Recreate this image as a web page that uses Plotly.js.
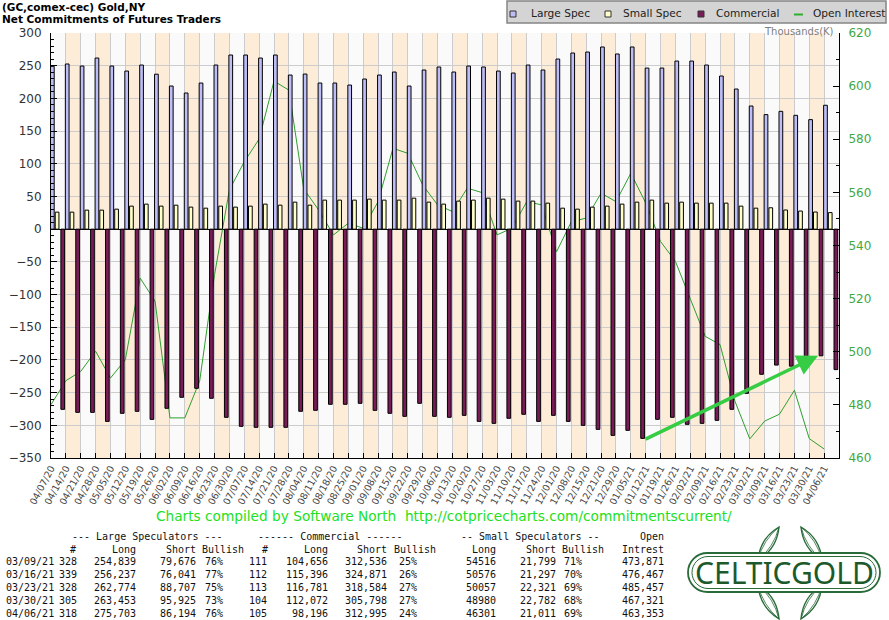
<!DOCTYPE html>
<html><head><meta charset="utf-8">
<script src="https://cdn.plot.ly/plotly-3.0.1.min.js"></script>
<style>html,body{margin:0;padding:0;background:#fff}#chart{width:889px;height:620px}</style>
</head><body><div id="chart"></div>
<script>
// ---------- chart data ----------
const dates = ['04/07/20','04/14/20','04/21/20','04/28/20','05/05/20','05/12/20','05/19/20','05/26/20','06/02/20','06/09/20','06/16/20','06/23/20','06/30/20','07/07/20','07/14/20','07/21/20','07/28/20','08/04/20','08/11/20','08/18/20','08/25/20','09/01/20','09/08/20','09/15/20','09/22/20','09/29/20','10/06/20','10/13/20','10/20/20','10/27/20','11/03/20','11/10/20','11/17/20','11/24/20','12/01/20','12/08/20','12/15/20','12/21/20','12/29/20','01/05/21','01/12/21','01/19/21','01/26/21','02/02/21','02/09/21','02/16/21','02/23/21','03/02/21','03/09/21','03/16/21','03/23/21','03/30/21','04/06/21'];
const largeSpec = [249,252.6,249.5,261.7,249.5,241.8,251,237,218.9,208.2,223.5,251,266.3,266.3,261.7,266.3,235.7,237.2,223.5,223.5,220.4,229.6,235.7,240.3,218.9,243.4,248,240.3,249.5,248,241.8,238.8,251,243.4,260.2,269.4,270.9,278.6,267.9,278.6,246.4,246.4,257.1,257.1,251,234.2,214.3,188.3,175.2,180.2,174.1,167.5,189.5];
const smallSpec = [26,26,29.1,29.1,30.6,35.2,38.3,35.2,36.7,33.7,32.1,35.2,33.7,35.2,38.3,36.7,41.3,36.7,44.4,44.4,44.4,45.9,44.4,44.4,47.4,41.3,38.3,42.9,44.4,47.4,45.9,42.9,42.9,39.8,32.1,30.6,33.7,35.2,38.3,41.3,44.4,39.8,41.3,39.8,39.8,39.8,35.2,32.1,32.7,29.3,27.7,26.2,25.3];
const commercial = [-275.6,-280.2,-280.2,-294,-281.7,-278.6,-290.9,-274,-257.2,-243.4,-258.7,-287.8,-301.6,-303.1,-303.1,-303.1,-278.6,-277.1,-267.9,-267.9,-266.4,-277.1,-281.7,-286.3,-266.4,-286.3,-287.8,-284.8,-294,-297,-289.3,-283.2,-294,-284.8,-294,-300.1,-306.2,-315.4,-307.7,-320,-290.9,-287.8,-298.5,-297,-292.4,-275.6,-251.1,-222,-207.9,-209.5,-201.8,-193.7,-214.8];
const openInterest = [480.1,489.1,492.6,500.2,490.1,497,527.7,519,475.1,475.1,489,529,561,571.5,580.1,601.9,598.5,561.3,553.4,544,548.4,546.5,556.5,576.6,574.7,562.8,555.3,552.8,561.6,559.9,544,546.5,556.5,555.3,537.6,549,550.3,559.7,556.5,567.2,556,541.5,534,520.2,505.8,502.7,481.4,467.2,473.9,476.5,485.5,467.3,463.4];

// ---------- table data ----------
const tblDates = ['03/09/21','03/16/21','03/23/21','03/30/21','04/06/21'];
const lsCount = [328,339,328,305,318];
const lsLong = [254839,256237,262774,263453,275703];
const lsShort = [79676,76041,88707,95925,86194];
const lsBull = [76,77,75,73,76];
const cmCount = [111,112,113,104,105];
const cmLong = [104656,115396,116781,112072,98196];
const cmShort = [312536,324871,318584,305798,312995];
const cmBull = [25,26,27,27,24];
const ssLong = [54516,50576,50057,48980,46301];
const ssShort = [21799,21297,22321,22782,21011];
const ssBull = [71,70,69,68,69];
const oiTbl = [473871,476467,485457,467321,463353];

// ---------- geometry helpers (plot area in px) ----------
const L = 51, R = 839, T = 33, B = 458;
const X = x => (x - L) / (R - L);
const Y = y => (B - y) / (B - T);
const idx = dates.map((d, i) => i);
const fmt = n => n.toLocaleString('en-US');

const traces = [
  {type:'scatter', mode:'lines', x: idx, y: openInterest, yaxis:'y', line:{color:'#2f9f2f', width:1}, name:'Open Interest', hoverinfo:'skip'},
  {type:'bar', x: idx, y: largeSpec, yaxis:'y2', offset:-0.035, width:0.25, marker:{color:'#bdbdf7', line:{color:'#000', width:1}}, name:'Large Spec'},
  {type:'bar', x: idx, y: smallSpec, yaxis:'y2', offset:0.285, width:0.25, marker:{color:'#ffffc8', line:{color:'#000', width:1}}, name:'Small Spec'},
  {type:'bar', x: idx, y: commercial, yaxis:'y2', offset:0.665, width:0.25, marker:{color:'#7a1b58', line:{color:'#000', width:1}}, name:'Commercial'}
];

const shapes = [];
for (let i = 1; i < 53; i += 2) {
  shapes.push({type:'rect', layer:'below', xref:'x', yref:'paper', x0:i, x1:i+1, y0:0, y1:1, fillcolor:'#fdecd8', line:{width:0}});
}
// legend box
shapes.push({type:'rect', xref:'paper', yref:'paper', x0:X(507), x1:X(886), y0:Y(1), y1:Y(23), fillcolor:'#d4d4d4', line:{color:'#858585', width:1.5}});
const legItems = [
  {sx:510, tx:529, label:'Large Spec', color:'#bdbdf7', kind:'sq'},
  {sx:605, tx:621, label:'Small Spec', color:'#ffffc8', kind:'sq'},
  {sx:698, tx:714, label:'Commercial', color:'#7a1b58', kind:'sq'},
  {sx:794, tx:811, label:'Open Interest', color:'#2fae2f', kind:'line'}
];
const annotations = [];
legItems.forEach(it => {
  if (it.kind === 'sq') {
    shapes.push({type:'rect', xref:'paper', yref:'paper', x0:X(it.sx), x1:X(it.sx+6), y0:Y(11), y1:Y(17), fillcolor:it.color, line:{color:'#333', width:1}});
  } else {
    shapes.push({type:'line', xref:'paper', yref:'paper', x0:X(it.sx), x1:X(it.sx+9), y0:Y(14.5), y1:Y(14.5), line:{color:it.color, width:2}});
  }
  annotations.push({xref:'paper', yref:'paper', x:X(it.tx), y:Y(13), xanchor:'left', yanchor:'middle', showarrow:false, text:it.label, font:{family:'DejaVu Sans', size:10.6, color:'#222'}});
});

// title lines
annotations.push({xref:'paper', yref:'paper', x:X(0), y:Y(7), xanchor:'left', yanchor:'middle', showarrow:false, text:'<b>(GC,comex-cec) Gold,NY</b>', font:{family:'DejaVu Sans', size:10.5, color:'#000'}});
annotations.push({xref:'paper', yref:'paper', x:X(0), y:Y(19), xanchor:'left', yanchor:'middle', showarrow:false, text:'<b>Net Commitments of Futures Traders</b>', font:{family:'DejaVu Sans', size:10.5, color:'#000'}});

// Thousands(K)
annotations.push({xref:'paper', yref:'paper', x:X(836), y:Y(32), xanchor:'right', yanchor:'middle', showarrow:false, text:'Thousands(K)', font:{family:'DejaVu Sans', size:10, color:'#808080'}});

// arrow
annotations.push({xref:'x', yref:'y2', x:51.59, y:-193.8, ax:-174, ay:84, showarrow:true, text:'', arrowhead:2, arrowsize:1.2, arrowwidth:3.5, arrowcolor:'#36cc44', standoff:0});

// credits line
annotations.push({xref:'paper', yref:'paper', x:X(444), y:Y(516), xanchor:'center', yanchor:'middle', showarrow:false, text:'Charts compiled by Software North\u00A0\u00A0http://cotpricecharts.com/commitmentscurrent/', font:{family:'DejaVu Sans', size:13.7, color:'#22e022'}});

// table
const tf = {family:'DejaVu Sans Mono', size:10, color:'#111'};
function cell(text, x, y, anchor) {
  annotations.push({xref:'paper', yref:'paper', x:X(x), y:Y(y), xanchor:anchor || 'right', yanchor:'middle', showarrow:false, text:String(text), font:tf, borderpad:0});
}
cell('--- Large Speculators ---', 147, 536, 'center');
cell('------ Commercial ------', 330, 536, 'center');
cell('-- Small Speculators --', 530, 536, 'center');
cell('Open', 665, 536);
cell('#', 77, 549); cell('Long', 137, 549); cell('Short', 197, 549); cell('Bullish', 245, 549);
cell('#', 269, 549); cell('Long', 329, 549); cell('Short', 388, 549); cell('Bullish', 437, 549);
cell('Long', 497, 549); cell('Short', 557, 549); cell('Bullish', 605, 549); cell('Intrest', 665, 549);
const rowY = [561.7, 574.7, 587.7, 600.7, 613.5];
tblDates.forEach((d, r) => {
  const y = rowY[r];
  cell(d, 5, y, 'left');
  cell(lsCount[r], 78, y);
  cell(fmt(lsLong[r]), 137, y);
  cell(fmt(lsShort[r]), 197, y);
  cell(lsBull[r] + '%', 224, y);
  cell(cmCount[r], 268, y);
  cell(fmt(cmLong[r]), 329, y);
  cell(fmt(cmShort[r]), 388, y);
  cell(cmBull[r] + '%', 418, y);
  cell(String(ssLong[r]), 497, y);
  cell(fmt(ssShort[r]), 557, y);
  cell(ssBull[r] + '%', 583, y);
  cell(fmt(oiTbl[r]), 665, y);
});

// logo
const G = '#2a6b3a';
const k = 0.5523;
function pill(x0, y0, x1, y1) {
  const r = (y1 - y0) / 2, cy = (y0 + y1) / 2, lc = x0 + r, rc = x1 - r;
  const p = (x, y) => X(x) + ',' + Y(y);
  return 'M' + p(lc, y0) + ' L' + p(rc, y0) +
    ' C' + p(rc + k*r, y0) + ' ' + p(x1, cy - k*r) + ' ' + p(x1, cy) +
    ' C' + p(x1, cy + k*r) + ' ' + p(rc + k*r, y1) + ' ' + p(rc, y1) +
    ' L' + p(lc, y1) +
    ' C' + p(lc - k*r, y1) + ' ' + p(x0, cy + k*r) + ' ' + p(x0, cy) +
    ' C' + p(x0, cy - k*r) + ' ' + p(lc - k*r, y0) + ' ' + p(lc, y0) + ' Z';
}
function lens(ax, ay, bx, by, w) {
  const mx = (ax + bx) / 2, my = (ay + by) / 2, dx = bx - ax, dy = by - ay, len = Math.hypot(dx, dy);
  const nx = -dy / len * w, ny = dx / len * w;
  const p = (x, y) => X(x) + ',' + Y(y);
  return 'M' + p(ax, ay) + ' Q' + p(mx + nx, my + ny) + ' ' + p(bx, by) + ' Q' + p(mx - nx, my - ny) + ' ' + p(ax, ay) + ' Z';
}
[[758,560,779,527,10],[822,560,801,527,10],[758,585,779,619,10],[822,585,801,619,10]].forEach(a => {
  shapes.push({type:'path', xref:'paper', yref:'paper', path:lens(a[0],a[1],a[2],a[3],a[4]), line:{color:G, width:1.4}});
  shapes.push({type:'path', xref:'paper', yref:'paper', path:lens(a[0],a[1],a[2],a[3],a[4]-3.5), line:{color:G, width:0.8}});
});
shapes.push({type:'path', xref:'paper', yref:'paper', path:pill(688, 553, 880, 592), fillcolor:'#ffffff', line:{color:G, width:1.8}});
shapes.push({type:'path', xref:'paper', yref:'paper', path:pill(692, 556.5, 876, 588.5), line:{color:G, width:1}});
annotations.push({xref:'paper', yref:'paper', x:X(784), y:Y(572.5), xanchor:'center', yanchor:'middle', showarrow:false, text:'CELTICGOLD', font:{family:'Noto Sans', size:30, color:'#1d5a2b'}});

const layout = {
  width: 889, height: 620, autosize: false,
  margin: {l: L, r: 889 - R, t: T, b: 620 - B, pad: 0},
  paper_bgcolor: '#ffffff', plot_bgcolor: '#fafafa',
  showlegend: false, barmode: 'overlay', hovermode: false,
  xaxis: {range: [0, 53], tickmode: 'array', tickvals: idx, ticktext: dates, tickangle: -62, ticks: 'inside', ticklen: 5, tickcolor: '#000', showline: true, linecolor: '#000', linewidth: 1, showgrid: true, gridcolor: '#cccccc', zeroline: false, tickfont: {family: 'DejaVu Sans', size: 9.5, color: '#444'}, fixedrange: true},
  yaxis: {range: [460, 620], side: 'right', tickmode: 'linear', tick0: 460, dtick: 20, ticks: 'inside', ticklen: 6, tickcolor: '#000', minor: {dtick: 10, ticklen: 3, ticks: 'inside', tickcolor: '#000'}, showline: true, linecolor: '#000', linewidth: 1, showgrid: false, zeroline: false, tickfont: {family: 'DejaVu Sans', size: 12, color: '#3fa83f'}, ticklabelstandoff: 6, fixedrange: true},
  yaxis2: {range: [-350, 300], side: 'left', overlaying: 'y', tickmode: 'linear', tick0: 0, dtick: 50, ticks: 'inside', ticklen: 6, tickcolor: '#000', minor: {dtick: 10, ticklen: 3, ticks: 'inside', tickcolor: '#000'}, showline: true, linecolor: '#000', linewidth: 1, showgrid: true, gridcolor: '#cccccc', zeroline: true, zerolinecolor: '#000', zerolinewidth: 1, tickfont: {family: 'DejaVu Sans', size: 12, color: '#333'}, ticklabelstandoff: 6, fixedrange: true},
  shapes: shapes,
  annotations: annotations
};

Plotly.newPlot('chart', traces, layout, {displayModeBar: false, staticPlot: true});
</script>
</body></html>
